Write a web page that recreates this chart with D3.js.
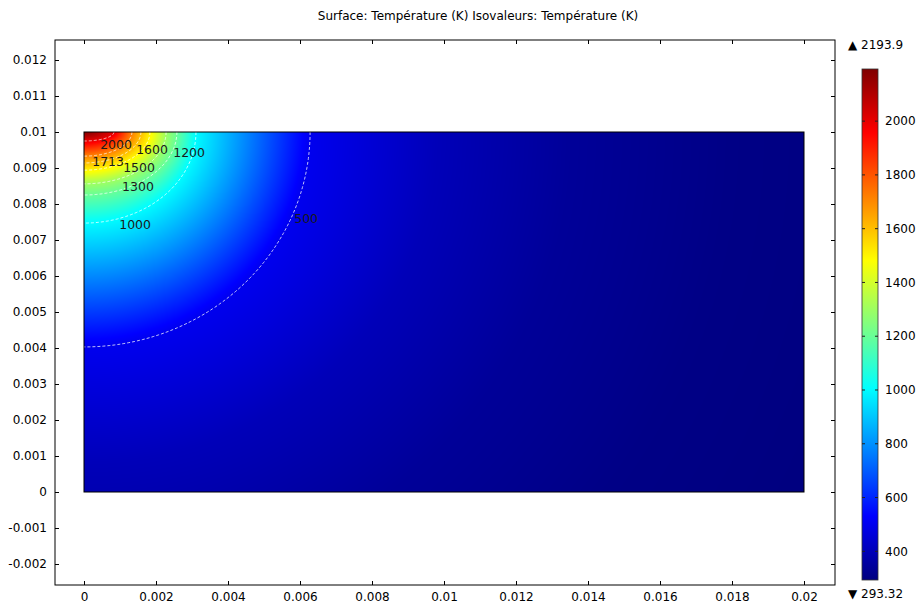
<!DOCTYPE html>
<html>
<head>
<meta charset="utf-8">
<script src="https://cdn.jsdelivr.net/npm/d3@7"></script>
<style>
  body { margin: 0; background: #fff; }
  text { font-family: "DejaVu Sans", sans-serif; }
</style>
</head>
<body>
<div id="chart"></div>
<script>
const width  = 921;
const height = 605;

// temperature rings (K), from the hot corner outwards
const levels    = [2193.9, 2000, 1713, 1600, 1500, 1300, 1200, 1000, 500, 400, 340, 305, 293.32];
// how far each ring reaches along the top edge (y = 0.01) and down the left edge (x = 0), in m
const reachTop  = [0, 0.00083, 0.00133, 0.00158, 0.00183, 0.00228, 0.00258, 0.00311, 0.00628, 0.0098, 0.0135, 0.018, 0.0224];
const reachLeft = [0, 0.00025, 0.00067, 0.00086, 0.00106, 0.00144, 0.00175, 0.00253, 0.00597, 0.0092, 0.0128, 0.017, 0.0224];

// isolines drawn and their labels
const isoLevels = [2000, 1713, 1600, 1500, 1300, 1200, 1000, 500];
const isoLabelX = [0.00089, 0.00067, 0.00189, 0.00153, 0.00150, 0.00292, 0.00142, 0.00617];
const isoLabelY = [0.00964, 0.00917, 0.00950, 0.00900, 0.00847, 0.00944, 0.00742, 0.00758];

const xTicks  = [0, 0.002, 0.004, 0.006, 0.008, 0.01, 0.012, 0.014, 0.016, 0.018, 0.02];
const yTicks  = [-0.002, -0.001, 0, 0.001, 0.002, 0.003, 0.004, 0.005, 0.006, 0.007, 0.008, 0.009, 0.01, 0.011, 0.012];
const cbTicks = [400, 600, 800, 1000, 1200, 1400, 1600, 1800, 2000];

const tMin = 293.32, tMax = 2193.9;
const domW = 0.02, domH = 0.01;

const frame = { l: 55, t: 40, r: 835, b: 585 };
const x = d3.scaleLinear().domain([0, domW]).range([84, 804]);
const y = d3.scaleLinear().domain([0, domH]).range([492, 132]);

// jet colormap
function jet(t) {
  t = Math.max(0, Math.min(1, t));
  const c = v => Math.round(255 * Math.max(0, Math.min(1, v)));
  return [c(1.5 - Math.abs(4*t - 3)), c(1.5 - Math.abs(4*t - 2)), c(1.5 - Math.abs(4*t - 1))];
}
const tNorm = d3.scaleLinear().domain([tMin, tMax]);

// radius of ring k in direction th (elliptical ring)
function ringR(k, th) {
  const a = reachTop[k], b = reachLeft[k];
  if (a === 0 || b === 0) return 0;
  return a*b / Math.sqrt(Math.pow(b*Math.cos(th), 2) + Math.pow(a*Math.sin(th), 2));
}

function tempAt(xm, ym) {
  const d  = domH - ym;
  const rho = Math.hypot(xm, d);
  const th  = Math.atan2(d, xm);
  let rPrev = 0;
  for (let k = 1; k < levels.length; k++) {
    const r = ringR(k, th);
    if (rho <= r) {
      const f = (rho - rPrev) / (r - rPrev);
      return levels[k-1] + f * (levels[k] - levels[k-1]);
    }
    rPrev = r;
  }
  return levels[levels.length - 1];
}

const svg = d3.select('#chart').append('svg')
  .attr('width', width)
  .attr('height', height);

svg.append('rect').attr('width', width).attr('height', height).attr('fill', '#fff');

// title
svg.append('text')
  .attr('x', 478).attr('y', 20)
  .attr('text-anchor', 'middle')
  .style('font-size', '12px')
  .text('Surface: Température (K) Isovaleurs: Température (K)');

// surface, painted pixel by pixel into a canvas
const pw = Math.round(x(domW) - x(0)), ph = Math.round(y(0) - y(domH));
const canvas = document.createElement('canvas');
canvas.width = pw; canvas.height = ph;
const ctx = canvas.getContext('2d');
const img = ctx.createImageData(pw, ph);
for (let j = 0; j < ph; j++) {
  const ym = y.invert(y(domH) + j + 0.5);
  for (let i = 0; i < pw; i++) {
    const xm = x.invert(x(0) + i + 0.5);
    const col = jet(tNorm(tempAt(xm, ym)));
    const o = 4 * (j*pw + i);
    img.data[o] = col[0]; img.data[o+1] = col[1]; img.data[o+2] = col[2]; img.data[o+3] = 255;
  }
}
ctx.putImageData(img, 0, 0);

svg.append('image')
  .attr('x', x(0)).attr('y', y(domH))
  .attr('width', pw).attr('height', ph)
  .attr('preserveAspectRatio', 'none')
  .attr('href', canvas.toDataURL());

const defs = svg.append('defs');
defs.append('clipPath').attr('id', 'dom')
  .append('rect')
  .attr('x', x(0)).attr('y', y(domH))
  .attr('width', pw).attr('height', ph);

// isolines
const line = d3.line().x(p => x(p[0])).y(p => y(p[1]));
const iso = svg.append('g').attr('clip-path', 'url(#dom)');
isoLevels.forEach(v => {
  const k = levels.indexOf(v);
  const pts = d3.range(0, 121).map(s => {
    const th = s / 120 * Math.PI / 2;
    const r = ringR(k, th);
    return [r*Math.cos(th), domH - r*Math.sin(th)];
  });
  iso.append('path')
    .attr('d', line(pts))
    .attr('fill', 'none')
    .attr('stroke', '#fff')
    .attr('stroke-opacity', 0.75)
    .attr('stroke-width', 1)
    .attr('stroke-dasharray', '3,2');
});

// domain outline
svg.append('rect')
  .attr('x', x(0)).attr('y', y(domH))
  .attr('width', pw).attr('height', ph)
  .attr('fill', 'none').attr('stroke', '#000').attr('stroke-width', 1);

// isoline labels
svg.append('g').selectAll('text')
  .data(isoLevels)
  .join('text')
  .attr('x', (d, i) => x(isoLabelX[i]))
  .attr('y', (d, i) => y(isoLabelY[i]))
  .attr('dy', '0.35em')
  .attr('text-anchor', 'middle')
  .style('font-size', '12.5px')
  .style('fill', '#1a1a1a')
  .text(d => d);

// axes, ticks inward on all four sides
const fmt = d => String(d);
svg.append('g')
  .attr('transform', `translate(0,${frame.b})`)
  .call(d3.axisBottom(x).tickValues(xTicks).tickFormat(fmt).tickSizeInner(-4).tickSizeOuter(0).tickPadding(7));
svg.append('g')
  .attr('transform', `translate(0,${frame.t})`)
  .call(d3.axisTop(x).tickValues(xTicks).tickFormat('').tickSizeInner(-4).tickSizeOuter(0));
svg.append('g')
  .attr('transform', `translate(${frame.l},0)`)
  .call(d3.axisLeft(y).tickValues(yTicks).tickFormat(fmt).tickSizeInner(-4).tickSizeOuter(0).tickPadding(8));
svg.append('g')
  .attr('transform', `translate(${frame.r},0)`)
  .call(d3.axisRight(y).tickValues(yTicks).tickFormat('').tickSizeInner(-4).tickSizeOuter(0));
svg.selectAll('.domain').remove();
svg.selectAll('.tick text').style('font-size', '12px').style('font-family', '"DejaVu Sans", sans-serif').attr('fill', '#000');
svg.selectAll('.tick line').attr('stroke', '#000');

svg.append('rect')
  .attr('x', frame.l).attr('y', frame.t)
  .attr('width', frame.r - frame.l).attr('height', frame.b - frame.t)
  .attr('fill', 'none').attr('stroke', '#000').attr('stroke-width', 1);

// colour legend
const cb = d3.scaleLinear().domain([tMin, tMax]).range([580, 69]);
const grad = defs.append('linearGradient')
  .attr('id', 'jet')
  .attr('x1', 0).attr('y1', 1).attr('x2', 0).attr('y2', 0);
d3.range(0, 33).forEach(s => {
  const t = s / 32;
  grad.append('stop')
    .attr('offset', t)
    .attr('stop-color', `rgb(${jet(t).join(',')})`);
});
const cbX = 862, cbW = 16;
svg.append('rect')
  .attr('x', cbX).attr('y', cb(tMax))
  .attr('width', cbW).attr('height', cb(tMin) - cb(tMax))
  .attr('fill', 'url(#jet)')
  .attr('stroke', '#333').attr('stroke-width', 0.8);

const cbg = svg.append('g');
cbg.selectAll('line.l')
  .data(cbTicks).join('line')
  .attr('x1', cbX).attr('x2', cbX + 3)
  .attr('y1', d => cb(d)).attr('y2', d => cb(d))
  .attr('stroke', '#222');
cbg.selectAll('line.r')
  .data(cbTicks).join('line')
  .attr('x1', cbX + cbW - 3).attr('x2', cbX + cbW)
  .attr('y1', d => cb(d)).attr('y2', d => cb(d))
  .attr('stroke', '#222');
cbg.selectAll('text')
  .data(cbTicks).join('text')
  .attr('x', 885)
  .attr('y', d => cb(d))
  .attr('dy', '0.35em')
  .style('font-size', '12px')
  .text(d => d);

svg.append('text')
  .attr('x', 848).attr('y', 49)
  .style('font-size', '12px')
  .text('▲ ' + tMax);
svg.append('text')
  .attr('x', 848).attr('y', 598)
  .style('font-size', '12px')
  .text('▼ ' + tMin);
</script>
</body>
</html>
